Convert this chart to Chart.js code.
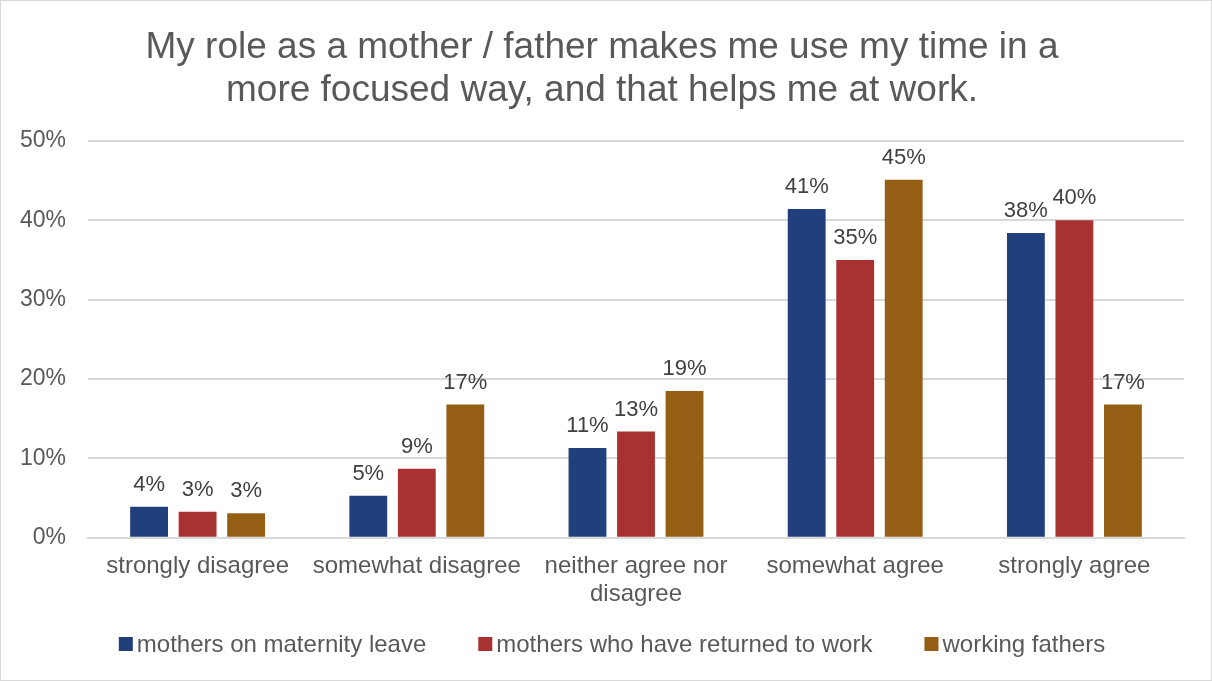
<!DOCTYPE html>
<html>
<head>
<meta charset="utf-8">
<script src="https://cdn.jsdelivr.net/npm/chart.js@4.4.1/dist/chart.umd.min.js"></script>
<style>
  html, body { margin: 0; padding: 0; background: #fff; }
  #wrap { width: 1210px; height: 679px; border: 1px solid #d9d9d9; }
</style>
</head>
<body>
<div id="wrap"><canvas id="role-chart" width="1210" height="679"></canvas></div>
<script>
// survey answers, share of respondents (%)
const categories = [
  "strongly disagree",
  "somewhat disagree",
  ["neither agree nor", "disagree"],
  "somewhat agree",
  "strongly agree",
];
const maternityLeave = [3.9, 5.3, 11.3, 41.4, 38.4];
const returnedToWork = [3.3, 8.7, 13.4, 35.0, 40.0];
const workingFathers = [3.1, 16.8, 18.5, 45.1, 16.8];
const yTicks = [0, 10, 20, 30, 40, 50];

const FONT = "'Liberation Sans', Arial, sans-serif";
const textColor = "#595959";
const gridColor = "#d9d9d9";

// write the rounded value above each bar
const barLabels = {
  id: "barLabels",
  afterDatasetsDraw(chart) {
    const { ctx } = chart;
    ctx.save();
    ctx.font = "22px " + FONT;
    ctx.fillStyle = "#404040";
    ctx.textAlign = "center";
    ctx.textBaseline = "bottom";
    chart.data.datasets.forEach((ds, i) => {
      chart.getDatasetMeta(i).data.forEach((bar, j) => {
        ctx.fillText(Math.round(ds.data[j]) + "%", bar.x, bar.y - 11);
      });
    });
    ctx.restore();
  },
};

// legend row along the bottom: small square, tight gap, then the name
const bottomLegend = {
  id: "bottomLegend",
  afterDraw(chart) {
    const { ctx } = chart;
    const box = 14, gap = 4, spacing = 52;
    const y = chart.height - 36;
    ctx.save();
    ctx.font = "24px " + FONT;
    ctx.textBaseline = "middle";
    const items = chart.data.datasets.map((ds) => ({
      text: ds.label,
      color: ds.backgroundColor,
      w: box + gap + ctx.measureText(ds.label).width,
    }));
    const total = items.reduce((s, it) => s + it.w, 0) + spacing * (items.length - 1);
    let x = (chart.width - total) / 2 + 6;
    items.forEach((it) => {
      ctx.fillStyle = it.color;
      ctx.fillRect(x, y - box / 2, box, box);
      ctx.fillStyle = textColor;
      ctx.fillText(it.text, x + box + gap, y + 1);
      x += it.w + spacing;
    });
    ctx.restore();
  },
};

function renderChart() {
  const ctx = document.getElementById("role-chart");

  new Chart(ctx, {
    type: "bar",
    data: {
      labels: categories,
      datasets: [
        { label: "mothers on maternity leave", data: maternityLeave, backgroundColor: "#203f7b" },
        { label: "mothers who have returned to work", data: returnedToWork, backgroundColor: "#a83131" },
        { label: "working fathers", data: workingFathers, backgroundColor: "#945f15" },
      ],
    },
    options: {
      responsive: false,
      animation: false,
      categoryPercentage: 0.664,
      barPercentage: 0.78,
      layout: { padding: { left: 19, right: 27, top: 0, bottom: 66 } },
      plugins: {
        title: {
          display: true,
          text: [
            "My role as a mother / father makes me use my time in a",
            "more focused way, and that helps me at work.",
          ],
          color: textColor,
          font: { family: FONT, size: 37, weight: "normal", lineHeight: 1.16 },
          padding: { top: 25, bottom: 29 },
        },
        legend: { display: false },
        tooltip: { enabled: false },
      },
      scales: {
        x: {
          grid: { display: false },
          border: { color: gridColor, width: 2 },
          ticks: {
            color: textColor,
            font: { family: FONT, size: 24, lineHeight: 1.17 },
            maxRotation: 0,
            autoSkip: false,
            padding: 6,
          },
        },
        y: {
          min: 0,
          max: 50,
          afterBuildTicks: (axis) => {
            axis.ticks = yTicks.map((v) => ({ value: v }));
          },
          afterFit: (axis) => {
            axis.width = 68;
          },
          grid: { color: gridColor, lineWidth: 2, drawTicks: false },
          border: { display: false },
          ticks: {
            color: textColor,
            padding: 22,
            font: { family: FONT, size: 23 },
            callback: (v) => v + "%",
          },
        },
      },
    },
    plugins: [barLabels, bottomLegend],
  });
}

renderChart();
</script>
</body>
</html>
